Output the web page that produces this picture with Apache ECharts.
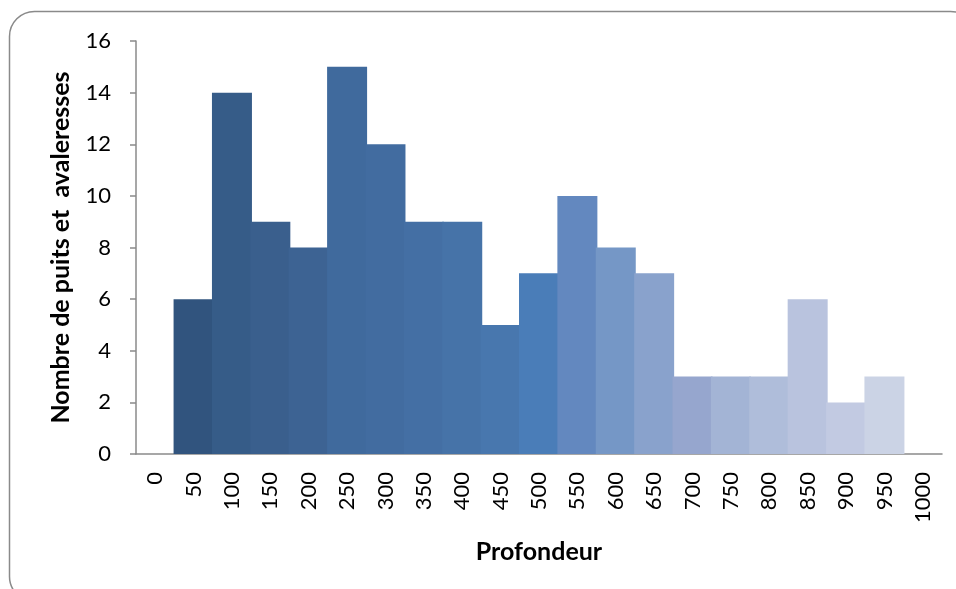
<!DOCTYPE html>
<html>
<head>
<meta charset="utf-8">
<script src="https://cdn.jsdelivr.net/npm/echarts@6/dist/echarts.min.js"></script>
<style>html,body{margin:0;padding:0;background:#fff;}#c{width:956px;height:589px;}</style>
</head>
<body>
<div id="c"></div>
<script>
const categories = ['0','50','100','150','200','250','300','350','400','450','500','550','600','650','700','750','800','850','900','950','1000'];
const counts = [null,6,14,9,8,15,12,9,9,5,7,10,8,7,3,3,3,6,2,3,null];
const barColors = ['#31547E','#31547E','#365C88','#3A5F8D','#3D6393','#406A9D','#426CA0','#446FA4','#4673A8','#4877AE','#4A7DB8','#6388BF','#7597C6','#89A2CC','#96A6CE','#A3B4D5','#AFBDDA','#B9C3DE','#C2CAE2','#CBD3E5','#CBD3E5'];
const yTicks = {min:0, max:16, interval:2};
const yTitle = 'Nombre de puits et  avaleresses';
const xTitle = 'Profondeur';

const chart = echarts.init(document.getElementById('c'), null, {renderer:'canvas'});
chart.setOption({
  animation:false,
  backgroundColor:'#fff',
  graphic:[{
    type:'rect', silent:true,
    shape:{x:9.5, y:11.5, width:966, height:590, r:25},
    style:{fill:'none', stroke:'#8a8a8a', lineWidth:1.5}
  }],
  grid:{left:136, right:14, top:41, bottom:135, containLabel:false},
  xAxis:{
    type:'category', data:categories,
    axisLine:{lineStyle:{color:'#8a8a8a', width:1.5}},
    axisTick:{show:false},
    axisLabel:{rotate:90, margin:18, color:'#000', fontFamily:'Lato', fontSize:22},
    name:xTitle, nameLocation:'middle', nameGap:85,
    nameTextStyle:{color:'#000', fontFamily:'Lato', fontWeight:'bold', fontSize:25}
  },
  yAxis:{
    type:'value', min:yTicks.min, max:yTicks.max, interval:yTicks.interval,
    axisLine:{show:true, lineStyle:{color:'#8a8a8a', width:1.5}},
    axisTick:{show:true, inside:false, length:6, lineStyle:{color:'#8a8a8a', width:1.5}},
    splitLine:{show:false},
    axisLabel:{margin:25, color:'#000', fontFamily:'Lato', fontSize:22},
    name:yTitle, nameLocation:'middle', nameGap:63,
    nameTextStyle:{color:'#000', fontFamily:'Lato', fontWeight:'bold', fontSize:25}
  },
  series:[{
    type:'bar', barWidth:40, barGap:'0%',
    data:counts.map((v,i)=>({value:v, itemStyle:{color:barColors[i]}}))
  }]
});
</script>
</body>
</html>
